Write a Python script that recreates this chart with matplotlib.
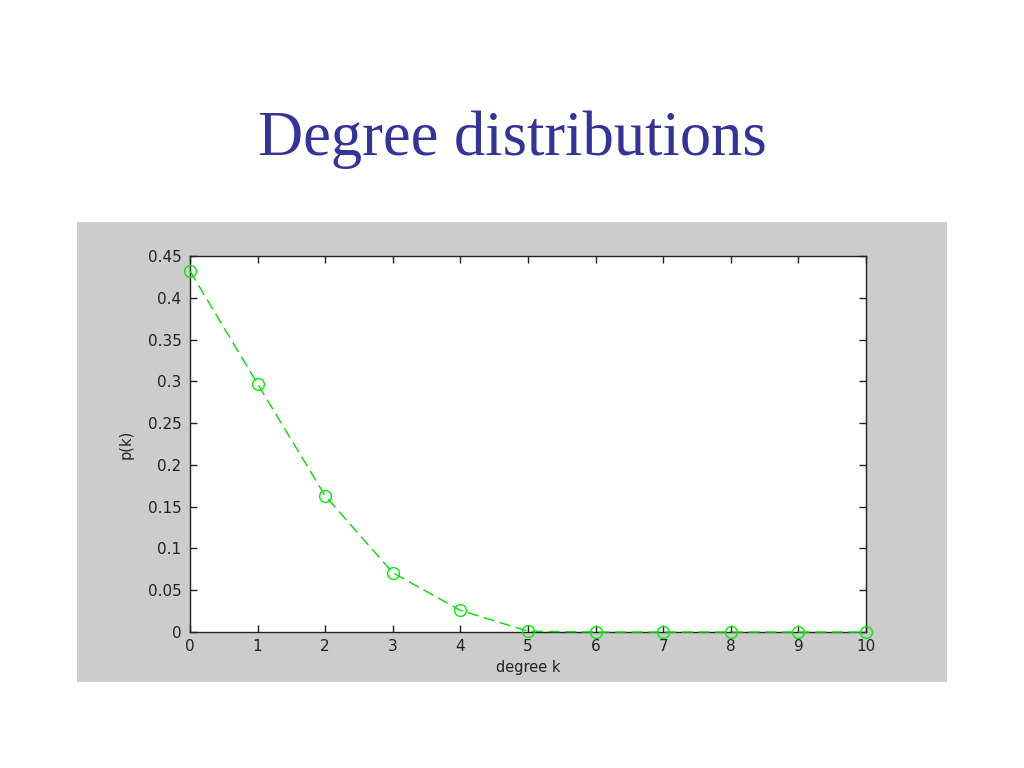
import matplotlib
matplotlib.use('Agg')
import matplotlib.pyplot as plt
from matplotlib.patches import Rectangle

degree_k = [0, 1, 2, 3, 4, 5, 6, 7, 8, 9, 10]
p_k = [0.432, 0.297, 0.163, 0.071, 0.026, 0.001, 0.0, 0.0, 0.0, 0.0, 0.0]
y_ticks = [0, 0.05, 0.1, 0.15, 0.2, 0.25, 0.3, 0.35, 0.4, 0.45]
y_tick_labels = ['0', '0.05', '0.1', '0.15', '0.2', '0.25', '0.3', '0.35', '0.4', '0.45']

fig = plt.figure(figsize=(10.24, 7.68), dpi=100)
fig.patch.set_facecolor('white')

# gray panel behind the axes, like a pasted matlab figure
fig.patches.append(Rectangle((0.0752, 0.112), 0.8496, 0.599, transform=fig.transFigure,
                             facecolor='#cccccc', edgecolor='none', zorder=-5))

fig.text(0.5, 0.818, 'Degree distributions', ha='center', va='center',
         fontsize=45, color='#333399', family='Liberation Serif')

ax = fig.add_axes([0.1855, 0.177, 0.6602, 0.4897])
ax.set_zorder(2)
ax.plot(degree_k, p_k, linestyle=(0, (8, 4)), color='#00e000', linewidth=1,
        marker='o', markersize=8.5, markerfacecolor='none', markeredgecolor='#00ee00',
        clip_on=False, zorder=3)
ax.set_xlim(0, 10)
ax.set_ylim(0, 0.45)
ax.set_xticks(degree_k)
ax.set_yticks(y_ticks)
ax.set_yticklabels(y_tick_labels)
ax.tick_params(direction='in', top=True, right=True, length=5, width=1,
               labelsize=11, colors='#222222')
ax.tick_params(axis='x', pad=5)
ax.tick_params(axis='y', pad=6)
for lab in ax.get_xticklabels() + ax.get_yticklabels():
    lab.set_family('DejaVu Sans')
for s in ax.spines.values():
    s.set_linewidth(1)
    s.set_color('#222222')
ax.set_xlabel('degree k', fontsize=10.5, family='DejaVu Sans', labelpad=4, color='#222222')
ax.set_ylabel('p(k)', fontsize=10.5, family='DejaVu Sans', labelpad=10, color='#222222')

fig.savefig('out.png', dpi=100, facecolor='white')
